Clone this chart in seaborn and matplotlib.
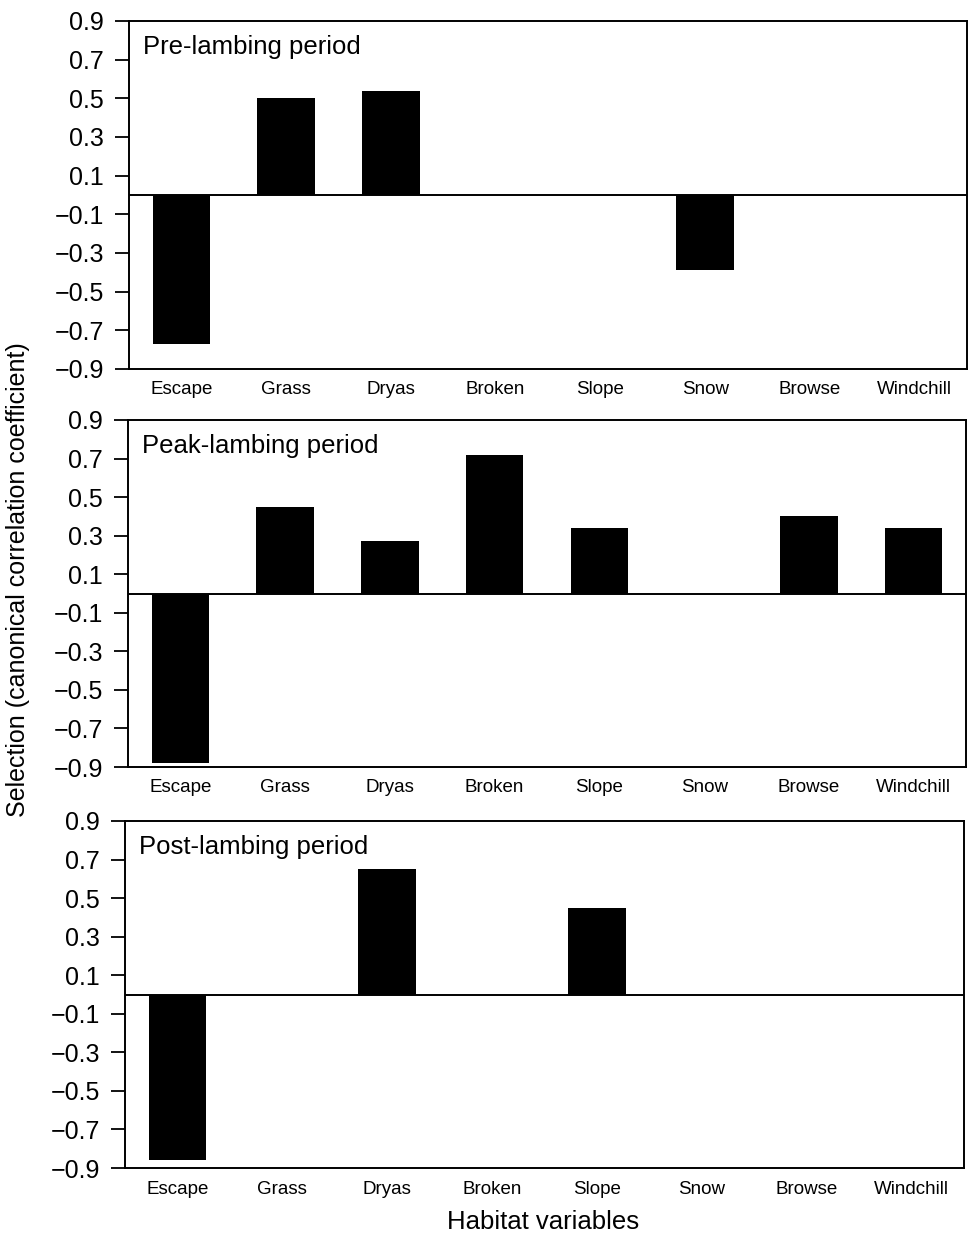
import matplotlib
matplotlib.use("Agg")
import matplotlib.pyplot as plt
import seaborn as sns
import pandas as pd

categories = ["Escape", "Grass", "Dryas", "Broken", "Slope", "Snow", "Browse", "Windchill"]
pre_lambing = [-0.77, 0.50, 0.54, 0.0, 0.0, -0.39, 0.0, 0.0]
peak_lambing = [-0.88, 0.45, 0.27, 0.72, 0.34, 0.0, 0.40, 0.34]
post_lambing = [-0.86, 0.0, 0.65, 0.0, 0.45, 0.0, 0.0, 0.0]
panel_titles = ["Pre-lambing period", "Peak-lambing period", "Post-lambing period"]
yticks = [0.9, 0.7, 0.5, 0.3, 0.1, -0.1, -0.3, -0.5, -0.7, -0.9]
ytick_labels = ["0.9", "0.7", "0.5", "0.3", "0.1", "\u22120.1", "\u22120.3", "\u22120.5", "\u22120.7", "\u22120.9"]

sns.set_style("ticks")
plt.rcParams["font.family"] = ["Liberation Sans", "DejaVu Sans"]
plt.rcParams["text.color"] = "black"
plt.rcParams["axes.labelcolor"] = "black"
plt.rcParams["xtick.color"] = "black"
plt.rcParams["ytick.color"] = "black"

W, H = 974, 1240
fig = plt.figure(figsize=(W / 100, H / 100), dpi=100)

# pixel boxes (left, right, top, bottom)
boxes = [(129, 967, 21, 369), (128, 966, 420, 767), (125, 964, 821, 1168)]
series = [pre_lambing, peak_lambing, post_lambing]

for (l, r, t, b), vals, title in zip(boxes, series, panel_titles):
    ax = fig.add_axes([l / W, 1 - b / H, (r - l) / W, (b - t) / H])
    df = pd.DataFrame({"cat": categories, "val": vals})
    sns.barplot(data=df, x="cat", y="val", order=categories, color="black",
                width=0.55, saturation=1, ax=ax, edgecolor="black", linewidth=0)
    ax.axhline(0, color="black", lw=1.4, zorder=3)
    ax.set_xlim(-0.5, len(categories) - 0.5)
    ax.set_ylim(-0.9, 0.9)
    ax.set_yticks(yticks)
    ax.set_yticklabels(ytick_labels, fontsize=18)
    ax.tick_params(axis="y", direction="out", length=10, width=1.3, pad=8,
                   color="black", labelcolor="black")
    ax.tick_params(axis="x", length=0, pad=9, labelsize=13.5, labelcolor="black")
    ax.set_xlabel("")
    ax.set_ylabel("")
    for s in ax.spines.values():
        s.set_visible(True)
        s.set_linewidth(1.4)
        s.set_color("black")
    ax.text(0.017, 0.96, title, transform=ax.transAxes, fontsize=18.5,
            ha="left", va="top", color="black")

fig.text(18 / W, 1 - 580 / H, "Selection (canonical correlation coefficient)",
         rotation=90, ha="center", va="center", fontsize=18, color="black")
fig.text(543 / W, 1 - 1222 / H, "Habitat variables", ha="center", va="center",
         fontsize=18.5, color="black")

fig.savefig("out.png", dpi=100, facecolor="white")
